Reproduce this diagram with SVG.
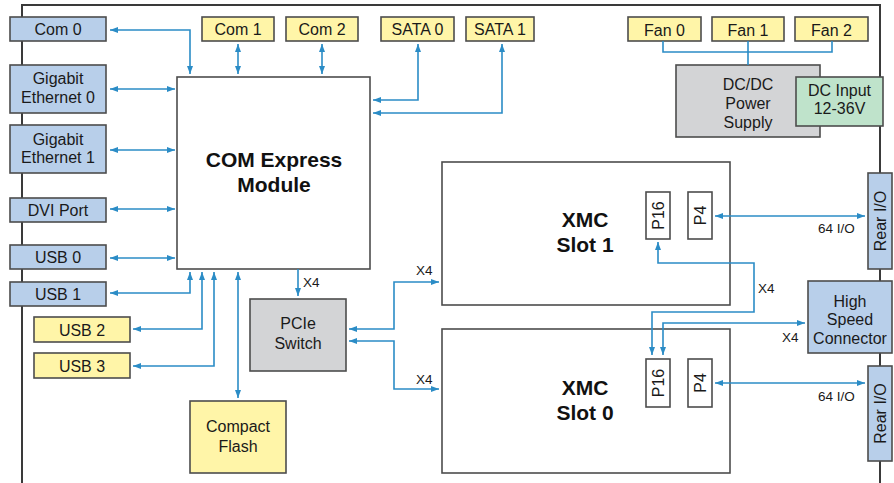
<svg xmlns="http://www.w3.org/2000/svg" width="894" height="483" viewBox="0 0 894 483">
<defs>
<marker id="ah" viewBox="0 0 8 6" markerWidth="8" markerHeight="6" refX="8" refY="3" orient="auto-start-reverse" markerUnits="userSpaceOnUse">
<path d="M0,0 L8,3 L0,6 z" fill="#2b8cc6"/>
</marker>
<style>
.frame{fill:none;stroke:#3a3a3a;stroke-width:2}
.box{stroke:#4d4d4d;stroke-width:1.6}
.blue{fill:#b8cfea}
.yel{fill:#fff5a8}
.gray{fill:#d3d4d6}
.green{fill:#bfe3cb}
.white{fill:#ffffff}
.t{font-family:"Liberation Sans",Arial,sans-serif;font-size:16px;fill:#1a1a1a;text-anchor:middle}
.b{font-family:"Liberation Sans",Arial,sans-serif;font-size:21px;font-weight:bold;fill:#111;text-anchor:middle}
.s{font-family:"Liberation Sans",Arial,sans-serif;font-size:13.5px;fill:#1a1a1a}
.c{fill:none;stroke:#2b8cc6;stroke-width:1.6}
.ca{fill:none;stroke:#2b8cc6;stroke-width:1.6;marker-start:url(#ah);marker-end:url(#ah)}
.ce{fill:none;stroke:#2b8cc6;stroke-width:1.6;marker-end:url(#ah)}
</style>
</defs>
<rect width="894" height="483" fill="#ffffff"/>
<path class="frame" d="M22,483 V5 H880 V483"/>

<g id="com0"><rect class="box blue" x="10" y="17" width="96" height="24"/><text class="t" x="58" y="35">Com 0</text></g>
<g id="gbe0"><rect class="box blue" x="10" y="65" width="96" height="48"/><text class="t" x="58" y="84">Gigabit</text><text class="t" x="58" y="102.5">Ethernet 0</text></g>
<g id="gbe1"><rect class="box blue" x="10" y="125" width="96" height="48"/><text class="t" x="58" y="144.5">Gigabit</text><text class="t" x="58" y="163">Ethernet 1</text></g>
<g id="dvi"><rect class="box blue" x="10" y="198" width="96" height="24"/><text class="t" x="58" y="216">DVI Port</text></g>
<g id="usb0"><rect class="box blue" x="10" y="245" width="96" height="24"/><text class="t" x="58" y="263">USB 0</text></g>
<g id="usb1"><rect class="box blue" x="10" y="282" width="96" height="24"/><text class="t" x="58" y="300">USB 1</text></g>
<g id="usb2"><rect class="box yel" x="34" y="317" width="96" height="25"/><text class="t" x="82" y="335.5">USB 2</text></g>
<g id="usb3"><rect class="box yel" x="34" y="353" width="96" height="25"/><text class="t" x="82" y="371.5">USB 3</text></g>

<g id="com1"><rect class="box yel" x="202" y="17" width="72" height="24"/><text class="t" x="238" y="35">Com 1</text></g>
<g id="com2"><rect class="box yel" x="286" y="17" width="72" height="24"/><text class="t" x="322" y="35">Com 2</text></g>
<g id="sata0"><rect class="box yel" x="381" y="17" width="73" height="24"/><text class="t" x="417.5" y="35">SATA 0</text></g>
<g id="sata1"><rect class="box yel" x="466" y="17" width="68" height="24"/><text class="t" x="500" y="35">SATA 1</text></g>

<g id="comexpress"><rect class="box white" x="177" y="77" width="193" height="192"/><text class="b" x="274" y="167">COM Express</text><text class="b" x="274" y="192">Module</text></g>
<g id="pcie"><rect class="box gray" x="250" y="299" width="96" height="72"/><text class="t" x="298" y="329">PCIe</text><text class="t" x="298" y="349">Switch</text></g>
<g id="cf"><rect class="box yel" x="190" y="401" width="96" height="72"/><text class="t" x="238" y="432">Compact</text><text class="t" x="238" y="452">Flash</text></g>

<g id="fan0"><rect class="box yel" x="628" y="17" width="73" height="24"/><text class="t" x="664.5" y="35.5">Fan 0</text></g>
<g id="fan1"><rect class="box yel" x="712" y="17" width="72" height="24"/><text class="t" x="748" y="35.5">Fan 1</text></g>
<g id="fan2"><rect class="box yel" x="795" y="17" width="73" height="24"/><text class="t" x="831.5" y="35.5">Fan 2</text></g>
<g id="dcdc"><rect class="box gray" x="676" y="65" width="144" height="72"/><text class="t" x="748" y="90">DC/DC</text><text class="t" x="748" y="109">Power</text><text class="t" x="748" y="128">Supply</text></g>
<g id="dcinput"><rect class="box green" x="796" y="77" width="87" height="49"/><text class="t" x="839.5" y="95.5">DC Input</text><text class="t" x="839.5" y="114">12-36V</text></g>

<g id="xmc1"><rect class="box white" x="442" y="162" width="288" height="143"/><text class="b" x="585" y="227">XMC</text><text class="b" x="585" y="252">Slot 1</text>
<rect class="box white" x="646" y="192" width="24" height="47"/><text class="t" transform="translate(664,215.5) rotate(-90)">P16</text>
<rect class="box white" x="688" y="192" width="24" height="47"/><text class="t" transform="translate(706,215.5) rotate(-90)">P4</text></g>
<g id="xmc0"><rect class="box white" x="442" y="329" width="288" height="144"/><text class="b" x="585" y="395">XMC</text><text class="b" x="585" y="420">Slot 0</text>
<rect class="box white" x="646" y="359" width="24" height="48"/><text class="t" transform="translate(664,383) rotate(-90)">P16</text>
<rect class="box white" x="688" y="359" width="24" height="48"/><text class="t" transform="translate(706,383) rotate(-90)">P4</text></g>

<g id="reario1"><rect class="box blue" x="868" y="173" width="24" height="96"/><text class="t" transform="translate(886,221) rotate(-90)">Rear I/O</text></g>
<g id="hsc"><rect class="box blue" x="808" y="281" width="84" height="72"/><text class="t" x="850" y="306.5">High</text><text class="t" x="850" y="325">Speed</text><text class="t" x="850" y="343.5">Connector</text></g>
<g id="reario0"><rect class="box blue" x="868" y="366" width="24" height="95"/><text class="t" transform="translate(886,413.5) rotate(-90)">Rear I/O</text></g>

<g id="connectors">
<path class="ca" d="M110,30 H190 V74"/>
<path class="ca" d="M110,89 H175"/>
<path class="ca" d="M110,150 H175"/>
<path class="ca" d="M110,209 H175"/>
<path class="ca" d="M110,258 H175"/>
<path class="ca" d="M110,293 H190 V272"/>
<path class="ca" d="M133,329 H202 V272"/>
<path class="ca" d="M133,366 H214 V272"/>
<path class="ca" d="M238,272 V398"/>
<path class="ca" d="M238,44 V74"/>
<path class="ca" d="M322,44 V74"/>
<path class="ca" d="M418,44 V100 H373"/>
<path class="ca" d="M502,44 V113 H373"/>
<path class="ce" d="M298,269 V296"/>
<path class="ca" d="M349,329 H394 V282 H439"/>
<path class="ca" d="M349,341 H394 V389 H439"/>
<path class="ca" d="M658,242 V263 H754 V312 H652 V355"/>
<path class="ca" d="M805,323 H663 V355"/>
<path class="ca" d="M715,216 H865"/>
<path class="ca" d="M715,383 H865"/>
<path class="c" d="M663,41 V52 H832 V41 M748,41 V65"/>
<text class="s" x="303" y="287">X4</text>
<text class="s" x="416" y="275">X4</text>
<text class="s" x="416" y="384">X4</text>
<text class="s" x="758" y="293">X4</text>
<text class="s" x="782" y="342">X4</text>
<text class="s" x="818" y="233">64 I/O</text>
<text class="s" x="818" y="401">64 I/O</text>
</g>
</svg>
